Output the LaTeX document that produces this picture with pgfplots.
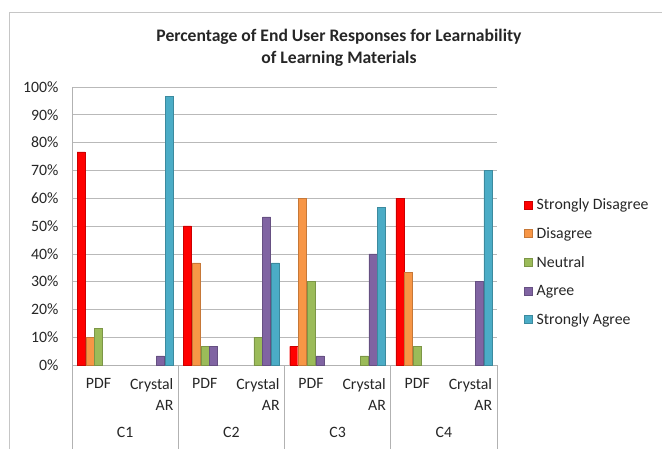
\documentclass[border=0pt]{standalone}
\usepackage{fontspec}
\setmainfont{Carlito}
\usepackage{pgfplots}
\pgfplotsset{compat=1.18}
\definecolor{csd}{HTML}{FF0000}
\definecolor{cd}{HTML}{F79646}
\definecolor{cn}{HTML}{9BBB59}
\definecolor{ca}{HTML}{8064A2}
\definecolor{csa}{HTML}{4BACC6}
\newcommand{\lbl}{\fontsize{15.8}{21}\selectfont}

\begin{document}
\begin{tikzpicture}
\useasboundingbox (0pt,0pt) rectangle (662pt,-449pt);
% outer chart frame
\draw[gray!45, line width=0.8pt] (9pt,-449pt) -- (9pt,-12pt) -- (662pt,-12pt);
\node[font=\fontsize{17.6}{22}\selectfont\bfseries, align=center, text=black!85]
  at (339pt,-48pt) {Percentage of End User Responses for Learnability\\of Learning Materials};

\begin{axis}[
  at={(72pt,-365pt)}, anchor=south west,
  scale only axis, width=425pt, height=278pt,
  ybar=0.7pt, bar width=8pt,
  xmin=-0.5, xmax=7.5, ymin=0, ymax=100,
  xtick={0,...,7},
  xticklabels={PDF,{Crystal\\AR},PDF,{Crystal\\AR},PDF,{Crystal\\AR},PDF,{Crystal\\AR}},
  xticklabel style={align=right, font=\lbl, text=black!85, yshift=-10pt},
  ytick={0,10,...,100},
  yticklabel={\pgfmathprintnumber{\tick}\%},
  yticklabel style={font=\lbl, text=black!85, xshift=-10pt},
  /pgf/number format/assume math mode=true,
  major tick length=0pt,
  axis x line*=bottom, axis y line*=left,
  axis line style={-, draw=gray!60, line width=0.8pt},
  ymajorgrids, grid style={gray!55, line width=0.6pt},
  clip=false,
  legend style={at={(1.064,0.37)}, anchor=west, draw=none, fill=none,
    font=\lbl, text=black!85, row sep=12.5pt, column sep=2pt, inner sep=0pt},
  legend cell align=left,
  legend image code/.code={\fill[#1] (0pt,-4pt) rectangle (8pt,4pt);},
]
\addplot[fill=csd, draw=csd!80!black, line width=0.3pt] coordinates {
  (0,76.7) (2,50) (4,6.7) (6,60)};
\addlegendentry{Strongly Disagree}
\addplot[fill=cd, draw=cd!80!black, line width=0.3pt] coordinates {
  (0,10) (2,36.7) (4,60) (6,33.3)};
\addlegendentry{Disagree}
\addplot[fill=cn, draw=cn!80!black, line width=0.3pt] coordinates {
  (0,13.3) (2,6.7) (3,10) (4,30) (5,3.3) (6,6.7)};
\addlegendentry{Neutral}
\addplot[fill=ca, draw=ca!80!black, line width=0.3pt] coordinates {
  (1,3.3) (2,6.7) (3,53.3) (4,3.3) (5,40) (7,30)};
\addlegendentry{Agree}
\addplot[fill=csa, draw=csa!80!black, line width=0.3pt] coordinates {
  (1,96.7) (3,36.7) (5,56.7) (7,70)};
\addlegendentry{Strongly Agree}

% group separators and group names
\foreach \s in {-0.5,1.5,3.5,5.5,7.5}{
  \edef\tmp{\noexpand\draw[gray!60, line width=0.8pt] (axis cs:\s,0) -- ++(0pt,-84pt);}\tmp
}
\node[font=\lbl, text=black!85, yshift=-67pt] at (axis cs:0.5,0) {C1};
\node[font=\lbl, text=black!85, yshift=-67pt] at (axis cs:2.5,0) {C2};
\node[font=\lbl, text=black!85, yshift=-67pt] at (axis cs:4.5,0) {C3};
\node[font=\lbl, text=black!85, yshift=-67pt] at (axis cs:6.5,0) {C4};
\end{axis}
\end{tikzpicture}
\end{document}
